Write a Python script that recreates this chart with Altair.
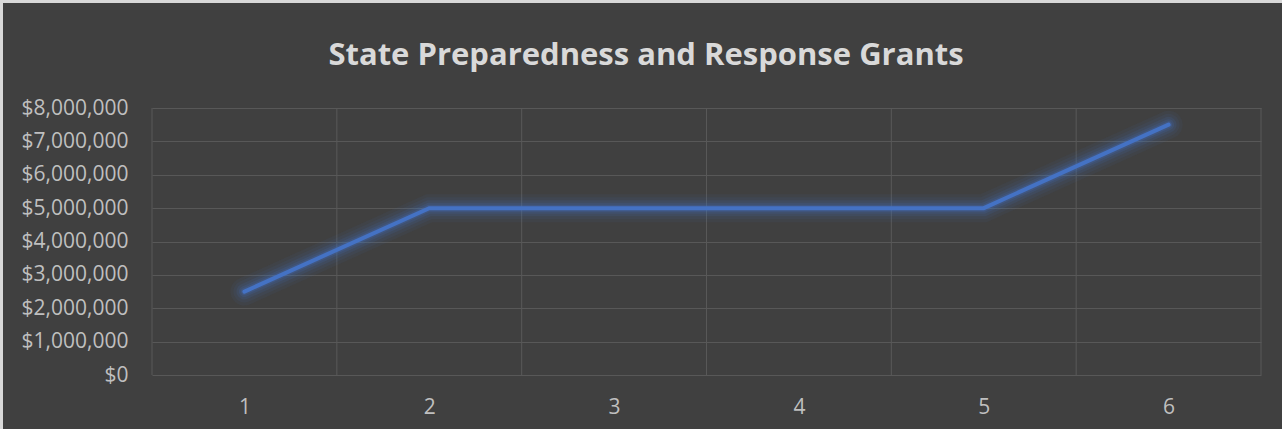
import altair as alt
import pandas as pd

categories = [1, 2, 3, 4, 5, 6]
grants = [2500000, 5000000, 5000000, 5000000, 5000000, 7500000]
y_ticks = [0, 1000000, 2000000, 3000000, 4000000, 5000000, 6000000, 7000000, 8000000]
band_edges = [0.5, 1.5, 2.5, 3.5, 4.5, 5.5, 6.5]
title_text = "State Preparedness and Response Grants"

df = pd.DataFrame({"cat": categories, "value": grants})
edges = pd.DataFrame({"edge": band_edges})

W, H = 1109, 267
FONT = "Open Sans"

xscale = alt.Scale(domain=[0.5, 6.5], nice=False, zero=False)
yscale = alt.Scale(domain=[0, 8000000], nice=False)

xaxis = alt.Axis(values=categories, format="d", grid=False, ticks=False, domain=False,
                 labelPadding=38, labelBaseline="alphabetic", labelFontSize=21,
                 labelColor="#bfbfbf", labelFont=FONT, labelOverlap=False, title=None)
yaxis = alt.Axis(values=y_ticks, format="$,.0f", grid=True, gridColor="#585858",
                 ticks=False, domain=False, labelPadding=24, labelFontSize=21,
                 labelColor="#bfbfbf", labelFont=FONT, labelOverlap=False,
                 labelFlush=False, title=None)

base = alt.Chart(df)

vgrid = alt.Chart(edges).mark_rule(color="#585858", strokeWidth=1).encode(
    x=alt.X("edge:Q", scale=xscale, axis=xaxis),
    y=alt.value(0),
    y2=alt.value(H),
)

glows = []
for w, o in [(28, 0.06), (22, 0.08), (16, 0.11), (11, 0.15), (7, 0.22)]:
    glows.append(base.mark_line(color="#4472C4", strokeWidth=w, opacity=o, strokeCap="round").encode(
        x=alt.X("cat:Q", scale=xscale, axis=xaxis),
        y=alt.Y("value:Q", scale=yscale, axis=yaxis)))

line_main = base.mark_line(color="#4472C4", strokeWidth=4, strokeCap="round").encode(
    x=alt.X("cat:Q", scale=xscale, axis=xaxis),
    y=alt.Y("value:Q", scale=yscale, axis=yaxis),
)

title = alt.Chart(pd.DataFrame({"t": [title_text]})).mark_text(
    font=FONT, fontSize=31, fontWeight="bold", color="#d9d9d9", align="center", baseline="alphabetic"
).encode(
    text="t:N", x=alt.value(646 - 152), y=alt.value(65 - 108),
)

border = alt.Chart(pd.DataFrame({"a": [0]})).mark_rect(
    fill=None, stroke="#d9d9d9", strokeWidth=3
).encode(
    x=alt.value(-150.5), x2=alt.value(W + 40),
    y=alt.value(-106.5), y2=alt.value(H + 80),
)

chart = alt.layer(vgrid, *glows, line_main, title, border).properties(
    width=W, height=H,
    autosize=alt.AutoSizeParams(type="none"),
    padding={"left": 152, "top": 108, "right": 21, "bottom": 54},
    background="#404040",
).configure_view(stroke=None)

chart.save("out.html", embed_options={"renderer": "svg", "actions": False})
